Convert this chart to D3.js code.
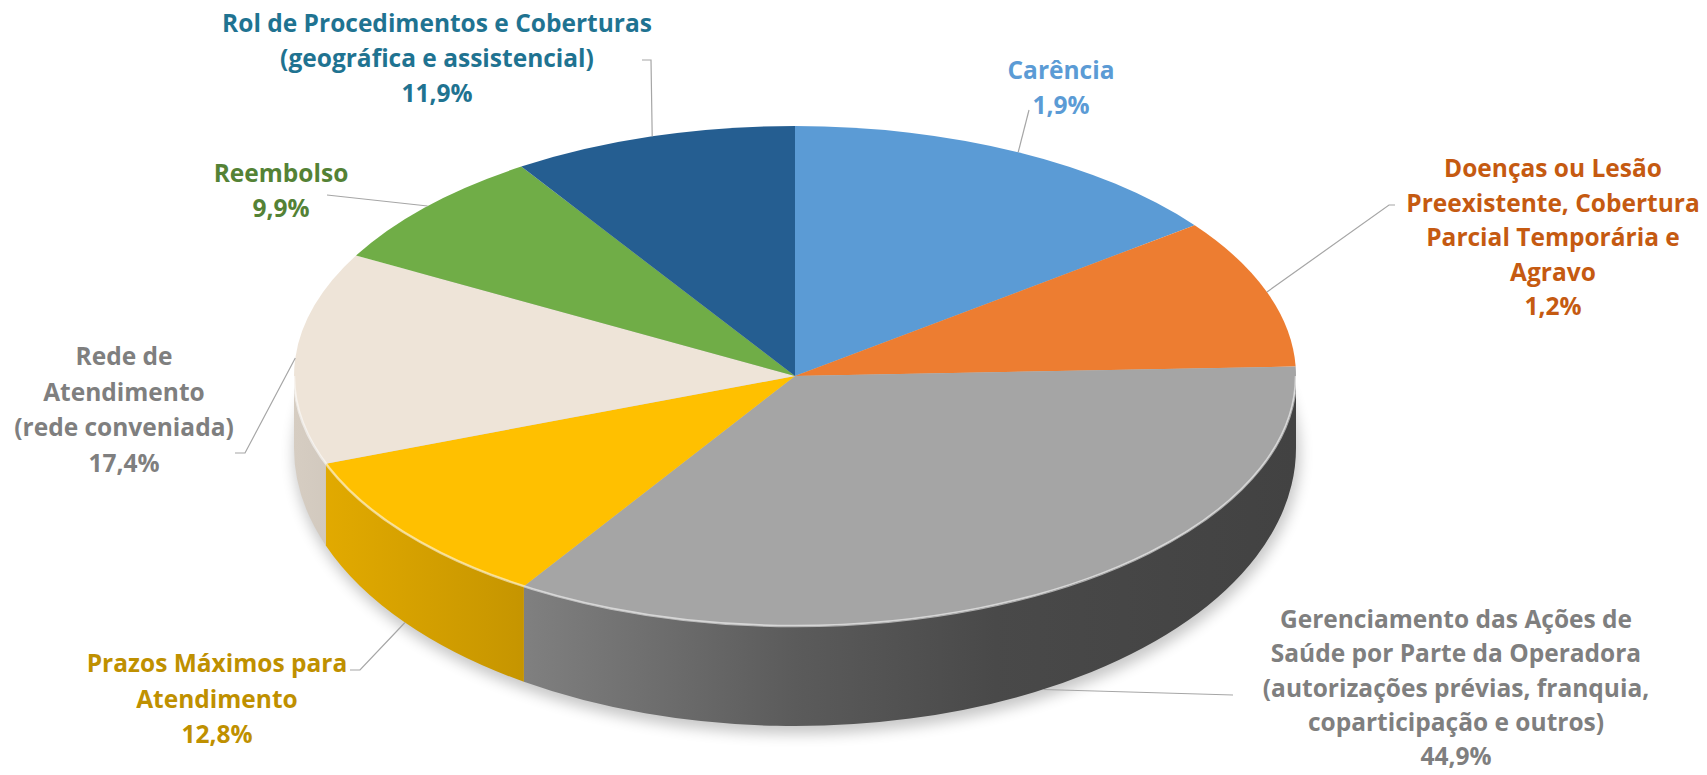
<!DOCTYPE html>
<html>
<head>
<meta charset="utf-8">
<script src="https://cdn.jsdelivr.net/npm/d3@7/dist/d3.min.js"></script>
<style>
  body { margin: 0; background: #fff; }
  svg { display: block; }
  .lbl { font-family: "Open Sans", Lato, sans-serif; font-weight: bold; font-size: 24.5px; }
</style>
</head>
<body>
<div id="chart"></div>
<script>
// slices, clockwise from 12 o'clock (shares)
var categories = ["Carência", "Doenças/Lesão Preexistente", "Gerenciamento das Ações de Saúde",
                  "Prazos Máximos", "Rede de Atendimento", "Reembolso", "Rol de Procedimentos"];
var shares = [14.7, 9.7, 34.7, 10.2, 13.7, 7.8, 9.2];
var percentLabels = ["1,9%", "1,2%", "44,9%", "12,8%", "17,4%", "9,9%", "11,9%"];
var labelLines = [
  ["Carência"],
  ["Doenças ou Lesão", "Preexistente, Cobertura", "Parcial Temporária e", "Agravo"],
  ["Gerenciamento das Ações de", "Saúde por Parte da Operadora", "(autorizações prévias, franquia,", "coparticipação e outros)"],
  ["Prazos Máximos para", "Atendimento"],
  ["Rede de", "Atendimento", "(rede conveniada)"],
  ["Reembolso"],
  ["Rol de Procedimentos e Coberturas", "(geográfica e assistencial)"]
];
var sliceColors = ["#5B9BD5", "#ED7D31", "#A5A5A5", "#FFC000", "#EEE4D8", "#70AD47", "#255E91"];
var textColors  = ["#5B9BD5", "#C55A11", "#7F7F7F", "#BF9000", "#7F7F7F", "#548235", "#1F7391"];

// label layout: centre x, first baseline, line gap, leader start, elbow
var labelPos = [
  { x: 1061, y: 79,  gap: 35,   sx: 1029, sy: 110, elbow: 0 },
  { x: 1553, y: 177, gap: 34.5, sx: 1395, sy: 205, elbow: -6 },
  { x: 1456, y: 628, gap: 34.3, sx: 1233, sy: 695, elbow: 0 },
  { x: 217,  y: 672, gap: 35.5, sx: 350,  sy: 670, elbow: 10 },
  { x: 124,  y: 365, gap: 35.5, sx: 235,  sy: 453, elbow: 10 },
  { x: 281,  y: 182, gap: 35,   sx: 327,  sy: 195, elbow: 0 },
  { x: 437,  y: 32,  gap: 35,   sx: 642,  sy: 60,  elbow: 9 }
];

var W = 1707, H = 775;
var cx = 795, cy = 376, rx = 501, ry = 250;
var cyB = cy + 72, ryB = ry + 28;   // bottom rim (a bit of perspective)

var svg = d3.select("#chart").append("svg")
  .attr("width", W).attr("height", H);
var defs = svg.append("defs");

var pie = d3.pie().sort(null).value(d => d);
var arcs = pie(shares);

function topPt(a) { return [cx + rx * Math.sin(a), cy - ry * Math.cos(a)]; }
function botPt(a) { return [cx + rx * Math.sin(a), cyB - ryB * Math.cos(a)]; }

// soft shadow under the pie
defs.append("filter").attr("id", "blur")
  .attr("x", "-20%").attr("y", "-20%").attr("width", "140%").attr("height", "140%")
  .append("feGaussianBlur").attr("stdDeviation", 7);
svg.append("ellipse")
  .attr("cx", cx + 2).attr("cy", cyB + 6)
  .attr("rx", rx + 2).attr("ry", ryB + 2)
  .attr("fill", "#000").attr("opacity", 0.22)
  .attr("filter", "url(#blur)");

// side shading: lighter on the left, darker on the right
var shadeStops = [[0, 0.1], [0.22, 0.22], [0.5, 0.45], [0.7, 0.56], [1, 0.6]];
arcs.forEach(function(d, i) {
  var g = defs.append("linearGradient").attr("id", "side" + i)
    .attr("gradientUnits", "userSpaceOnUse")
    .attr("x1", cx - rx).attr("x2", cx + rx).attr("y1", 0).attr("y2", 0);
  shadeStops.forEach(function(s) {
    g.append("stop").attr("offset", s[0])
      .attr("stop-color", d3.interpolateRgb(sliceColors[i], "#000")(s[1]));
  });
});

// front walls
var sides = svg.append("g");
arcs.forEach(function(d, i) {
  var s = Math.max(d.startAngle, Math.PI / 2), e = Math.min(d.endAngle, 3 * Math.PI / 2);
  if (e <= s) return;
  var p0 = topPt(s), p1 = topPt(e), q1 = botPt(e), q0 = botPt(s);
  var path = `M${p0}A${rx},${ry} 0 0 1 ${p1}L${q1}A${rx},${ryB} 0 0 0 ${q0}Z`;
  sides.append("path").attr("d", path).attr("fill", `url(#side${i})`);
});

// top face
var tops = svg.append("g");
arcs.forEach(function(d, i) {
  var p0 = topPt(d.startAngle), p1 = topPt(d.endAngle);
  var large = (d.endAngle - d.startAngle) > Math.PI ? 1 : 0;
  tops.append("path")
    .attr("d", `M${cx},${cy}L${p0}A${rx},${ry} 0 ${large} 1 ${p1}Z`)
    .attr("fill", sliceColors[i]);
});

// bevel highlight along the front rim
svg.append("path")
  .attr("d", `M${topPt(Math.PI / 2)}A${rx},${ry} 0 0 1 ${topPt(3 * Math.PI / 2)}`)
  .attr("fill", "none").attr("stroke", "#fff")
  .attr("stroke-width", 2.5).attr("opacity", 0.55);

// leader lines
var leaders = svg.append("g")
  .attr("fill", "none").attr("stroke", "#A6A6A6").attr("stroke-width", 1.2);
arcs.forEach(function(d, i) {
  var m = (d.startAngle + d.endAngle) / 2;
  var end = (m > Math.PI / 2 && m < 3 * Math.PI / 2) ? botPt(m) : topPt(m);
  var L = labelPos[i];
  var pts = [[L.sx, L.sy]];
  if (L.elbow) pts.push([L.sx + L.elbow, L.sy]);
  pts.push(end);
  leaders.append("path").attr("d", d3.line()(pts));
});

// labels
arcs.forEach(function(d, i) {
  var L = labelPos[i];
  var t = svg.append("text").attr("class", "lbl")
    .attr("text-anchor", "middle")
    .attr("fill", textColors[i]);
  labelLines[i].concat([percentLabels[i]]).forEach(function(line, k) {
    t.append("tspan").attr("x", L.x).attr("y", L.y + k * L.gap).text(line);
  });
});
</script>
</body>
</html>
